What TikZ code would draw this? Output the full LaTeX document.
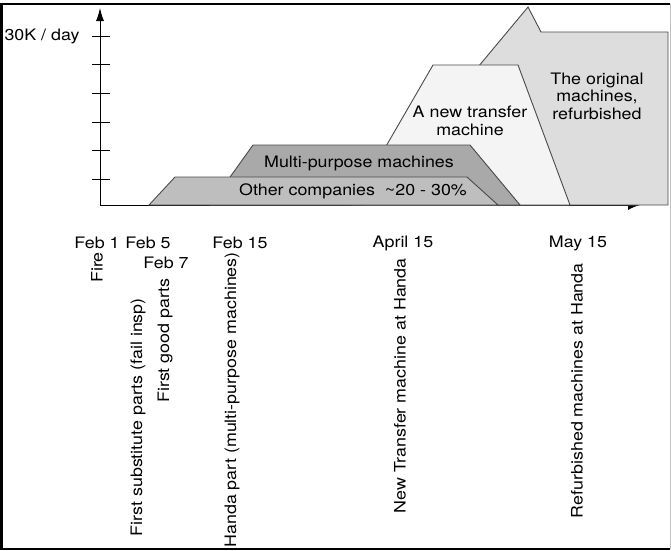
\documentclass[tikz,border=0pt]{standalone}
\usepackage{fontspec}
\setmainfont{TeX Gyre Heros}[FakeStretch=1.13]
\usetikzlibrary{arrows.meta,positioning}
\definecolor{OrigGrey}{HTML}{DDDDDD}
\definecolor{NewGrey}{HTML}{F4F4F4}
\definecolor{MultiGrey}{HTML}{A9A9A9}
\definecolor{OtherGrey}{HTML}{BEBEBE}
\definecolor{EdgeGrey}{HTML}{4A4A4A}

\begin{document}
\begin{tikzpicture}[x=1pt,y=-1pt,>=Latex,
    font=\fontsize{15.8}{17.5}\selectfont,
    band/.style={draw=EdgeGrey,line width=0.9pt,line join=miter},
    datelbl/.style={inner sep=0pt},
    eventlbl/.style={rotate=90,anchor=east,inner sep=0pt}]
  \useasboundingbox (0,0) rectangle (671,550);
  % frame
  \draw[line width=2.6pt] (670,4) -- (1.3,4) -- (1.3,549) -- (670,549);
  \draw[black!25,line width=1pt] (670,4) -- (670,549);
  % axes
  \coordinate (origin) at (100,205);
  \coordinate (ytop) at (100,8);
  \coordinate (xend) at (640,205);
  \draw[line width=0.9pt,-{Latex[length=12pt,width=10pt]}] (origin) -- (xend);
  \draw[line width=0.9pt,-{Latex[length=13pt,width=8pt]}] (origin) -- (ytop);
  \foreach \ty in {36,64,93,122,150,179}
    \draw[line width=0.9pt] (92,\ty) -- (110,\ty);
  \node[datelbl] (rate) at (42,36) {30K / day};
  % capacity bands
  \fill[OrigGrey,band] (363,205) -- (528,7) -- (541,32) -- (668,32) -- (668,205) -- cycle;
  \fill[NewGrey,band] (352,205) -- (433,65) -- (518,65) -- (570,205) -- cycle;
  \fill[MultiGrey,band] (210,205) -- (253,145) -- (470,145) -- (520,205) -- cycle;
  \fill[OtherGrey,band] (149,205) -- (175,177) -- (467,177) -- (498,205) -- cycle;
  \node[datelbl] (multi) at (359,163) {Multi-purpose machines};
  \node[datelbl] (other) at (353,191) {Other companies\ \ \textasciitilde20 - 30\%};
  \node[datelbl,align=center] (newtm) at (470,121) {A new transfer\\machine};
  \node[datelbl,align=center] (orig) at (597,96) {The original\\machines,\\refurbished};
  % dates
  \node[datelbl] (feb1) at (97,243) {Feb 1};
  \node[datelbl] (feb5) at (148,243) {Feb 5};
  \node[datelbl] (feb7) at (166,263) {Feb 7};
  \node[datelbl] (feb15) at (240,243) {Feb 15};
  \node[datelbl] (apr15) at (403,243) {April 15};
  \node[datelbl] (may15) at (578,243) {May 15};
  % events
  \node[eventlbl] (fire) at (97,252) {Fire};
  \node[eventlbl] (subst) at (138,298) {First substitute parts (fail insp)};
  \node[eventlbl] (good) at (165,278) {First good parts};
  \node[eventlbl] (handa) at (232,252) {Handa part (multi-purpose machines)};
  \node[eventlbl] (newat) at (400,258) {New Transfer machine at Handa};
  \node[eventlbl] (refurb) at (577,263) {Refurbished machines at Handa};
\end{tikzpicture}
\end{document}
